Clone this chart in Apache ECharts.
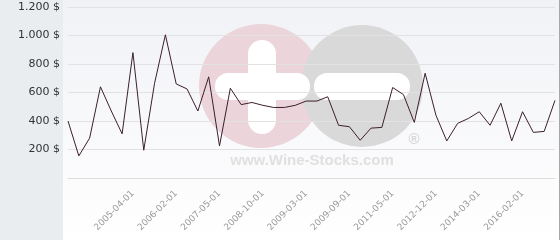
<!DOCTYPE html>
<html><head><meta charset="utf-8">
<script src="https://cdn.jsdelivr.net/npm/echarts@6/dist/echarts.min.js"></script>
<style>html,body{margin:0;padding:0;background:#e9edf0}#c{width:560px;height:240px}</style>
</head><body><div id="c"></div>
<script>
// Category labels (only the shown dates are known; others left blank)
const categories = [
  '', '', '', '', '', '', '2005-04-01', '', '', '',
  '2006-02-01', '', '', '', '2007-05-01', '', '', '', '2008-10-01', '',
  '', '', '2009-03-01', '', '', '', '2009-09-01', '', '', '',
  '2011-05-01', '', '', '', '2012-12-01', '', '', '', '2014-03-01', '',
  '', '', '2016-02-01', '', '', ''
];
const prices = [
  400, 155, 280, 640, 470, 310, 880, 195, 665, 1005,
  660, 625, 470, 710, 225, 630, 515, 530, 510, 495,
  495, 510, 540, 540, 570, 370, 360, 265, 350, 355,
  635, 585, 390, 735, 440, 260, 383, 418, 465, 370,
  525, 260, 465, 320, 327, 545
];
const yMin = 0, yMax = 1200, yStep = 200;

function fmt(v) {
  if (v === 0) return '';
  const s = String(v).replace(/\B(?=(\d{3})+(?!\d))/g, '.');
  return s + ' $';
}

const chart = echarts.init(document.getElementById('c'), null, {renderer: 'canvas'});
chart.setOption({
  animation: false,
  backgroundColor: '#e9edf0',
  grid: {left: 68, right: 5, top: 7, bottom: 62, containLabel: false},
  graphic: [
    {type: 'rect', zlevel: 0, z: -10, shape: {x: 63, y: 0, width: 496, height: 240},
     style: {fill: new echarts.graphic.LinearGradient(0, 0, 0, 1, [
       {offset: 0, color: '#f1f2f6'}, {offset: 1, color: '#ffffff'}])}},
    {type: 'rect', zlevel: 0, z: -9, shape: {x: 559, y: 0, width: 1, height: 240}, style: {fill: '#a8a8a8'}},
    // watermark
    {type: 'circle', zlevel: 0, z: -8, shape: {cx: 261, cy: 86, r: 62}, style: {fill: '#ecd4db'}},
    {type: 'circle', zlevel: 0, z: -8, shape: {cx: 362, cy: 86, r: 61}, style: {fill: '#d9d9da'}},
    {type: 'rect', zlevel: 0, z: -7, shape: {x: 248, y: 40, width: 28, height: 94, r: 14}, style: {fill: '#ffffff'}},
    {type: 'rect', zlevel: 0, z: -7, shape: {x: 215, y: 73, width: 95, height: 27, r: 13}, style: {fill: '#ffffff'}},
    {type: 'rect', zlevel: 0, z: -7, shape: {x: 314, y: 73, width: 96, height: 27, r: 13}, style: {fill: '#ffffff'}},
    {type: 'text', zlevel: 0, z: -7, style: {x: 312, y: 161, text: 'www.Wine-Stocks.com', align: 'center', verticalAlign: 'middle',
      font: 'bold 15px "Liberation Sans", Arial, sans-serif', fill: '#e0e0e0'}},
    {type: 'text', zlevel: 0, z: -7, style: {x: 414, y: 140, text: '®', align: 'center', verticalAlign: 'middle',
      font: 'bold 15px "Liberation Sans", Arial, sans-serif', fill: '#d6d6d6'}}
  ],
  xAxis: {
    type: 'category', data: categories, boundaryGap: false, zlevel: 1,
    axisLine: {show: true, lineStyle: {color: '#dddddd'}},
    axisTick: {show: false},
    axisLabel: {interval: 0, rotate: 45, margin: 14, color: '#9a9a9a', fontSize: 9,
      fontFamily: 'DejaVu Sans'},
    splitLine: {show: false}
  },
  yAxis: {
    type: 'value', min: yMin, max: yMax, interval: yStep, zlevel: 1,
    axisLine: {show: false}, axisTick: {show: false},
    axisLabel: {formatter: fmt, color: '#333333', fontSize: 11, margin: 8, fontFamily: 'DejaVu Sans'},
    splitLine: {lineStyle: {color: '#e2e2e2', width: 1}}
  },
  series: [{
    type: 'line', data: prices, symbol: 'none', zlevel: 1, z: 5,
    lineStyle: {color: '#3b1e2c', width: 1}
  }]
});
</script></body></html>
